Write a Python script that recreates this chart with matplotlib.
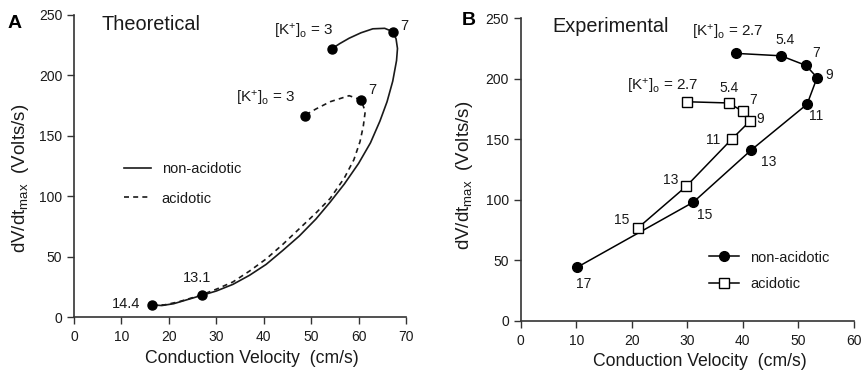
"""Two-panel figure: dV/dt max vs conduction velocity, theoretical (A) and experimental (B)."""
import matplotlib
matplotlib.use("Agg")
import matplotlib.pyplot as plt  # noqa: E402

plt.rcParams["font.family"] = ["Liberation Sans", "DejaVu Sans"]
plt.rcParams["mathtext.fontset"] = "custom"
plt.rcParams["mathtext.rm"] = "Liberation Sans"
plt.rcParams["mathtext.it"] = "Liberation Sans"

INK = "#1a1a1a"

# --- panel A: theoretical curves ---
a_non_x = [16.5, 18.5, 21, 24, 27, 30, 33.5, 37, 40.5, 44, 47.5, 51, 54, 57, 60,
           62.5, 64.5, 66, 67.2, 68.0, 68.2, 67.9, 67.2, 65.5, 63, 60.5, 58, 56, 54.3]
a_non_y = [10, 9.5, 11, 14.5, 18, 21.5, 27, 34.5, 43.5, 55, 67, 81, 95, 110, 127,
           144, 162, 178, 195, 212, 222, 230, 236, 238.7, 238.3, 235, 230.5, 226, 221.6]
a_acid_x = [16.5, 19, 22, 25, 27, 30, 33.5, 37, 40.5, 44, 47.5, 51, 54, 57, 59,
            60.3, 61, 61.4, 60.5, 58, 54, 51, 48.6]
a_acid_y = [10, 10, 12.5, 16, 18.5, 23, 29, 38, 48, 60, 73, 86, 98, 115, 130,
            145, 158, 170, 179.6, 183, 178, 172, 166.6]
a_pts_x = [16.5, 27, 67.2, 54.3, 60.5, 48.6]
a_pts_y = [10, 18, 236, 221.6, 179.6, 166.6]

# --- panel B: experimental points, labelled by [K+]o ---
b_k_non = ["2.7", "5.4", "7", "9", "11", "13", "15", "17"]
b_non_x = [38.8, 46.9, 51.4, 53.4, 51.6, 41.5, 31.1, 10.1]
b_non_y = [221, 219, 211, 201, 179, 141, 98, 44]
b_k_acid = ["2.7", "5.4", "7", "9", "11", "13", "15"]
b_acid_x = [30.0, 37.5, 40.0, 41.3, 38.0, 29.8, 21.2]
b_acid_y = [181, 180, 173, 165, 150, 111, 77]

KO = r"[K$^{+}$]$_{\mathrm{o}}$"


def style_axes(ax, xmax, xstep, ylab_x, ylab_y):
    for s in ("top", "right"):
        ax.spines[s].set_visible(False)
    for s in ("left", "bottom"):
        ax.spines[s].set_linewidth(1.2)
        ax.spines[s].set_color("#333333")
    ax.set_xlim(0, xmax)
    ax.set_ylim(0, 250)
    ax.set_xticks(range(0, xmax + 1, xstep))
    ax.set_yticks(range(0, 251, 50))
    ax.tick_params(direction="out", length=5, width=1, colors="#333333",
                   labelsize=10, labelcolor=INK)
    ax.tick_params(axis="x", pad=4.5)
    ax.set_xlabel("Conduction Velocity  (cm/s)", fontsize=12.7, color=INK)
    ax.set_ylabel(r"dV/dt$_{\mathrm{max}}$  (Volts/s)", fontsize=13.5, color=INK)
    ax.xaxis.set_label_coords(0.537, -0.108)
    ax.yaxis.set_label_coords(ylab_x, ylab_y)


fig = plt.figure(figsize=(8.67, 3.72), dpi=100)
axA = fig.add_axes([0.0854, 0.1478, 0.3829, 0.8128])
axB = fig.add_axes([0.6006, 0.1379, 0.3841, 0.8129])

# panel A
axA.plot(a_non_x, a_non_y, color=INK, lw=1.2, label="non-acidotic")
axA.plot(a_acid_x, a_acid_y, color=INK, lw=1.2, dashes=(3, 2.5), label="acidotic")
axA.plot(a_pts_x, a_pts_y, "o", color="black", ms=6.5, zorder=3)
style_axes(axA, 70, 10, -0.13, 0.459)
axA.text(0.084, 0.967, "Theoretical", transform=axA.transAxes, fontsize=14.3,
         va="center", ha="left", color=INK)
axA.text(54.6, 236, KO + " = 3", fontsize=11, ha="right", va="center", color=INK)
axA.text(46.6, 181, KO + " = 3", fontsize=11, ha="right", va="center", color=INK)
axA.text(69.6, 241, "7", fontsize=10.5, ha="center", va="center", color=INK)
axA.text(62.8, 188, "7", fontsize=10.5, ha="center", va="center", color=INK)
axA.text(25.9, 32, "13.1", fontsize=10.5, ha="center", va="center", color=INK)
axA.text(13.9, 10.8, "14.4", fontsize=10.5, ha="right", va="center", color=INK)
axA.legend(loc="upper left", bbox_to_anchor=(0.15, 0.512), frameon=False,
           fontsize=10.5, handlelength=1.85, handletextpad=0.75, labelspacing=1.05,
           borderpad=0, borderaxespad=0, labelcolor=INK)

# panel B
axB.plot(b_non_x, b_non_y, "-o", color="black", lw=1.1, ms=7, label="non-acidotic", zorder=3)
axB.plot(b_acid_x, b_acid_y, "-s", color="black", lw=1.1, ms=7.5, mfc="white",
         mew=1, label="acidotic", zorder=3)
style_axes(axB, 60, 10, -0.136, 0.482)
axB.text(0.096, 0.972, "Experimental", transform=axB.transAxes, fontsize=14.3,
         va="center", ha="left", color=INK)
non_lab_xy = [(43.7, 238), (47.6, 231.8), (53.2, 221.3), (55.5, 203.4),
              (53.3, 168.9), (44.6, 131), (33.2, 87.5), (11.3, 30.4)]
acid_lab_xy = [(32.0, 194), (37.6, 192), (41.8, 182.4), (43.1, 166.4),
               (34.6, 149.3), (27.0, 116.3), (18.2, 83.2)]
for i, (k, (tx, ty)) in enumerate(zip(b_k_non, non_lab_xy)):
    if i == 0:
        axB.text(tx, ty, KO + " = " + k, fontsize=11, ha="right", va="center", color=INK)
    else:
        axB.text(tx, ty, k, fontsize=10, ha="center", va="center", color=INK)
for i, (k, (tx, ty)) in enumerate(zip(b_k_acid, acid_lab_xy)):
    if i == 0:
        axB.text(tx, ty, KO + " = " + k, fontsize=11, ha="right", va="center", color=INK)
    else:
        axB.text(tx, ty, k, fontsize=10, ha="center", va="center", color=INK)
axB.legend(loc="upper left", bbox_to_anchor=(0.565, 0.232), frameon=False,
           fontsize=10.5, handlelength=2.05, handletextpad=0.8, labelspacing=0.87,
           borderpad=0, borderaxespad=0, labelcolor=INK)

fig.text(0.009, 0.938, "A", fontsize=14, fontweight="bold", va="center", ha="left")
fig.text(0.5325, 0.945, "B", fontsize=14, fontweight="bold", va="center", ha="left")

fig.savefig("out.png", dpi=100)
